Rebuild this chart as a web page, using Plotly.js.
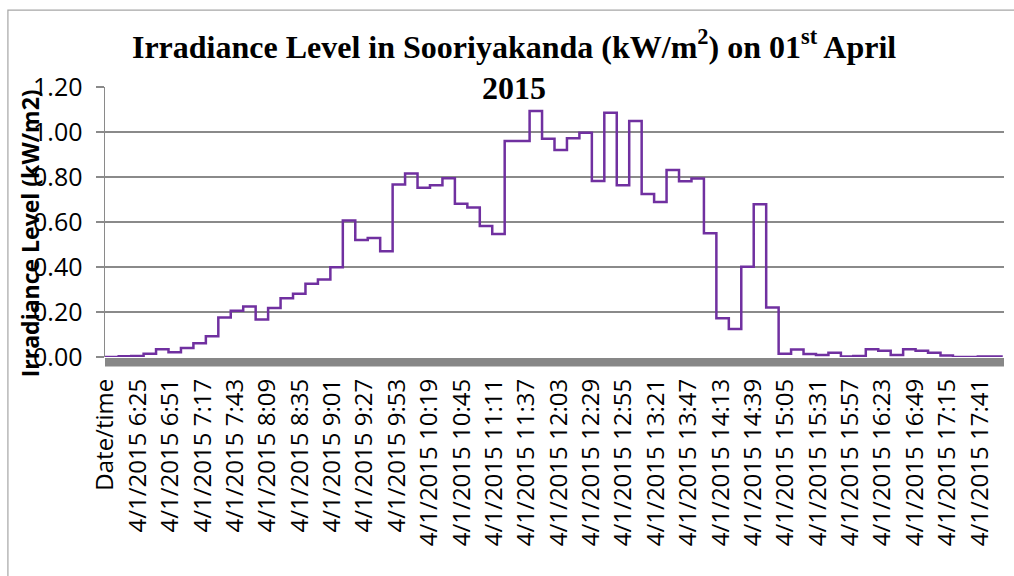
<!DOCTYPE html>
<html>
<head>
<meta charset="utf-8">
<script src="https://cdn.plot.ly/plotly-3.0.1.min.js"></script>
<style>
  html, body { margin: 0; padding: 0; background: #ffffff; }
  #chart { width: 1014px; height: 576px; }
</style>
</head>
<body>
<div id="chart"></div>
<script>
// ---- Data (10-minute readings, kW/m2) ----
const readingTimes = [
  "Date/time",
  "6:00","6:10","6:20","6:30","6:40","6:50",
  "7:00","7:10","7:20","7:30","7:40","7:50",
  "8:00","8:10","8:20","8:30","8:40","8:50",
  "9:00","9:10","9:20","9:30","9:40","9:50",
  "10:00","10:10","10:20","10:30","10:40","10:50",
  "11:00","11:10","11:20","11:30","11:40","11:50",
  "12:00","12:10","12:20","12:30","12:40","12:50",
  "13:00","13:10","13:20","13:30","13:40","13:50",
  "14:00","14:10","14:20","14:30","14:40","14:50",
  "15:00","15:10","15:20","15:30","15:40","15:50",
  "16:00","16:10","16:20","16:30","16:40","16:50",
  "17:00","17:10","17:20","17:30","17:40","17:50",
  "18:00"
];
const irradiance = [
  0,
  0.000, 0.003, 0.005, 0.015, 0.034, 0.021,
  0.040, 0.061, 0.092, 0.176, 0.206, 0.224,
  0.167, 0.218, 0.261, 0.281, 0.326, 0.345,
  0.399, 0.607, 0.520, 0.529, 0.470, 0.767,
  0.816, 0.752, 0.763, 0.794, 0.681, 0.665,
  0.582, 0.547, 0.960, 0.960, 1.093, 0.970,
  0.920, 0.972, 0.997, 0.782, 1.086, 0.763,
  1.049, 0.724, 0.689, 0.831, 0.781, 0.793,
  0.550, 0.172, 0.125, 0.401, 0.679, 0.220,
  0.015, 0.033, 0.013, 0.009, 0.019, 0.002,
  0.004, 0.034, 0.028, 0.009, 0.034, 0.028,
  0.019, 0.007, 0.000, 0.000, 0.002, 0.002,
  0.002
];
const tickLabels = [
  "Date/time",
  "4/1/2015 6:25","4/1/2015 6:51","4/1/2015 7:17","4/1/2015 7:43",
  "4/1/2015 8:09","4/1/2015 8:35","4/1/2015 9:01","4/1/2015 9:27",
  "4/1/2015 9:53","4/1/2015 10:19","4/1/2015 10:45","4/1/2015 11:11",
  "4/1/2015 11:37","4/1/2015 12:03","4/1/2015 12:29","4/1/2015 12:55",
  "4/1/2015 13:21","4/1/2015 13:47","4/1/2015 14:13","4/1/2015 14:39",
  "4/1/2015 15:05","4/1/2015 15:31","4/1/2015 15:57","4/1/2015 16:23",
  "4/1/2015 16:49","4/1/2015 17:15","4/1/2015 17:41"
];
const firstMinute = 6 * 60;      // 6:00 is the category right after "Date/time"
const lastMinute = 18 * 60;      // 18:00 is the last category

// category index on the 1-minute category axis
function catIndex(label) {
  const t = label.split(" ").pop();
  if (!t.includes(":")) return 0;
  const [h, m] = t.split(":").map(Number);
  return 1 + (h * 60 + m) - firstMinute;
}
const nCats = 1 + (lastMinute - firstMinute) + 1;

const xs = readingTimes.map(t => catIndex(t) - 0.5);
const tickvals = tickLabels.map(catIndex);

const trace = {
  x: xs,
  y: irradiance,
  type: "scatter",
  mode: "lines",
  line: { color: "#7030A0", width: 2.5, shape: "hv" },
  hoverinfo: "skip",
  showlegend: false
};

const layout = {
  width: 1014,
  height: 576,
  paper_bgcolor: "#ffffff",
  plot_bgcolor: "#ffffff",
  margin: { l: 105, r: 10, t: 87, b: 219, pad: 0 },
  showlegend: false,
  title: {
    text: "Irradiance Level in Sooriyakanda (kW/m<sup>2</sup>) on 01<sup>st</sup> April<br>2015",
    font: { family: "Liberation Serif, Times New Roman, serif", size: 32, color: "#000000", weight: "bold" },
    x: 0.507, xref: "container", xanchor: "center",
    y: 0.9, yref: "container", yanchor: "top"
  },
  xaxis: {
    type: "linear",
    range: [-0.5, nCats - 0.5],
    tickmode: "array",
    tickvals: tickvals,
    ticktext: tickLabels,
    tickangle: -90,
    tickfont: { family: "Open Sans, sans-serif", size: 24, color: "#000000" },
    ticks: "",
    ticklabelstandoff: 16,
    showgrid: false,
    zeroline: false,
    showline: false,
    fixedrange: true
  },
  yaxis: {
    range: [0, 1.2],
    tick0: 0,
    dtick: 0.2,
    tickformat: ".2f",
    tickfont: { family: "Open Sans, sans-serif", size: 25, color: "#000000" },
    ticks: "outside",
    ticklen: 8,
    tickwidth: 1.5,
    tickcolor: "#8a8a8a",
    ticklabelstandoff: 8,
    showgrid: true,
    gridcolor: "#8a8a8a",
    gridwidth: 1.5,
    showline: true,
    linecolor: "#8a8a8a",
    linewidth: 1.5,
    zeroline: false,
    fixedrange: true
  },
  annotations: [{
    text: "<b>Irradiance Level (kW/m2)</b>",
    textangle: -90,
    xref: "paper", yref: "paper",
    x: -0.084, y: 0.46,
    xanchor: "center", yanchor: "middle",
    showarrow: false,
    font: { family: "Open Sans, sans-serif", size: 23, color: "#000000" }
  }],
  shapes: [
    {
      type: "rect", xref: "paper", yref: "paper",
      ysizemode: "pixel", yanchor: 0,
      x0: 0, x1: 1, y0: -1, y1: -9.5,
      fillcolor: "#878787", line: { width: 0 }, layer: "below"
    },
    {
      type: "rect", xref: "paper", yref: "paper",
      x0: -0.108, x1: 1.2, y0: -1.5, y1: 1.285,
      fillcolor: "rgba(0,0,0,0)", line: { color: "#a6a6a6", width: 1.2 }, layer: "below"
    }
  ]
};

Plotly.newPlot("chart", [trace], layout, { staticPlot: true, displayModeBar: false });
</script>
</body>
</html>
